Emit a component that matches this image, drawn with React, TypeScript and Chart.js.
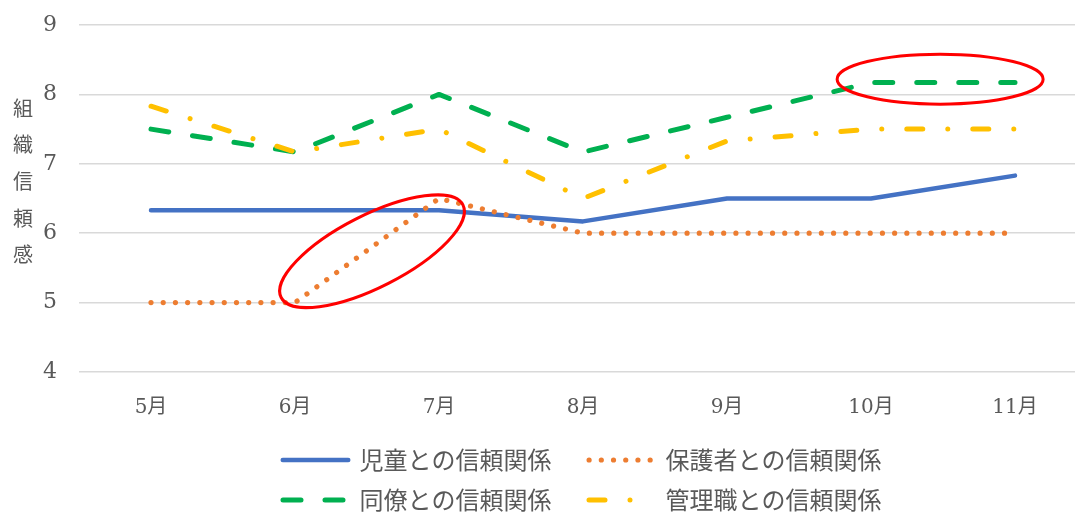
import React, { useEffect, useRef } from 'react';
import { Chart, registerables } from 'chart.js';

Chart.register(...registerables);

const months = ['5月', '6月', '7月', '8月', '9月', '10月', '11月'];
const seriesNames = ['児童との信頼関係', '保護者との信頼関係', '同僚との信頼関係', '管理職との信頼関係'];
const childValues = [6.33, 6.33, 6.33, 6.17, 6.5, 6.5, 6.83];
const guardianValues = [5, 5, 6.5, 6, 6, 6, 6];
const colleagueValues = [7.5, 7.17, 8, 7.17, 7.67, 8.17, 8.17];
const managerValues = [7.83, 7.17, 7.5, 6.5, 7.33, 7.5, 7.5];
const yMin = 4;
const yMax = 9;
const yStep = 1;
const yTitleChars = ['組', '織', '信', '頼', '感'];
// highlight ellipses, centred in data coordinates (category index, value)
const highlightX = [1.535, 5.48];
const highlightY = [5.74, 8.22];

const TEXT = '#595959';
const CJK = '"Noto Sans CJK JP", "Noto Sans", sans-serif';
const SERIF = '"DejaVu Serif", "Noto Sans CJK JP", serif';

const yTitlePlugin = {
  id: 'yTitleStack',
  afterDraw(chart: any) {
    const { ctx, chartArea } = chart;
    ctx.save();
    ctx.font = `20px ${CJK}`;
    ctx.fillStyle = TEXT;
    ctx.textAlign = 'center';
    ctx.textBaseline = 'middle';
    const mid = (chartArea.top + chartArea.bottom) / 2 - 17;
    const step = 36.7;
    yTitleChars.forEach((ch, i) => {
      ctx.fillText(ch, 23, mid + (i - (yTitleChars.length - 1) / 2) * step);
    });
    ctx.restore();
  },
};

const ellipsePlugin = {
  id: 'highlightEllipses',
  afterDatasetsDraw(chart: any) {
    const { ctx } = chart;
    const xs = chart.scales.x;
    const ys = chart.scales.y;
    const shapes = [
      { rx: 102, ry: 36, rot: (-27 * Math.PI) / 180 },
      { rx: 103, ry: 25, rot: 0 },
    ];
    ctx.save();
    ctx.strokeStyle = '#FF0000';
    ctx.lineWidth = 3;
    highlightX.forEach((hx, i) => {
      const px = xs.getPixelForValue(hx);
      const py = ys.getPixelForValue(highlightY[i]);
      ctx.beginPath();
      ctx.ellipse(px, py, shapes[i].rx, shapes[i].ry, shapes[i].rot, 0, Math.PI * 2);
      ctx.stroke();
    });
    ctx.restore();
  },
};

const legendPlugin = {
  id: 'twoRowLegend',
  afterDraw(chart: any) {
    const { ctx, chartArea } = chart;
    const ds = chart.data.datasets;
    ctx.save();
    ctx.font = `24px ${CJK}`;
    const lineLen = 70;
    const gap = 9;
    const colGap = 35;
    const w = ds.map((d: any) => ctx.measureText(d.label).width);
    const c1 = Math.max(w[0], w[2]);
    const c2 = Math.max(w[1], w[3]);
    const total = lineLen + gap + c1 + colGap + lineLen + gap + c2;
    const cx = (chartArea.left + chartArea.right) / 2 - 2;
    const x0 = cx - total / 2;
    const xsPos = [x0, x0 + lineLen + gap + c1 + colGap];
    const ysPos = [chartArea.bottom + 88, chartArea.bottom + 128];
    ds.forEach((d: any, i: number) => {
      const x = xsPos[i % 2];
      const y = ysPos[Math.floor(i / 2)];
      const hw = d.borderWidth / 2;
      ctx.beginPath();
      ctx.strokeStyle = d.borderColor;
      ctx.lineWidth = d.borderWidth;
      ctx.lineCap = 'round';
      ctx.setLineDash(d.borderDash || []);
      ctx.moveTo(x + hw, y);
      ctx.lineTo(x + lineLen - hw, y);
      ctx.stroke();
      ctx.setLineDash([]);
      ctx.fillStyle = TEXT;
      ctx.textAlign = 'left';
      ctx.textBaseline = 'middle';
      ctx.fillText(d.label, x + lineLen + gap, y);
    });
    ctx.restore();
  },
};

export default function App() {
  const ref = useRef<HTMLCanvasElement | null>(null);

  useEffect(() => {
    document.body.style.margin = '0';
    document.body.style.overflow = 'hidden';
    const canvas = ref.current;
    if (!canvas) return;
    const chart = new Chart(canvas, {
      type: 'line',
      data: {
        labels: months,
        datasets: [
          {
            label: seriesNames[0],
            data: childValues,
            borderColor: '#4472C4',
            borderWidth: 4.5,
            borderCapStyle: 'round',
            borderJoinStyle: 'round',
            pointRadius: 0,
            tension: 0,
            fill: false,
            order: 3,
          },
          {
            label: seriesNames[1],
            data: guardianValues,
            borderColor: '#ED7D31',
            borderWidth: 5.2,
            borderDash: [0.01, 12.2],
            borderCapStyle: 'round',
            borderJoinStyle: 'round',
            pointRadius: 0,
            tension: 0,
            fill: false,
            order: 2,
          },
          {
            label: seriesNames[2],
            data: colleagueValues,
            borderColor: '#00B050',
            borderWidth: 5,
            borderDash: [18, 24],
            borderCapStyle: 'round',
            borderJoinStyle: 'round',
            pointRadius: 0,
            tension: 0,
            fill: false,
            order: 1,
          },
          {
            label: seriesNames[3],
            data: managerValues,
            borderColor: '#FFC000',
            borderWidth: 5,
            borderDash: [16, 25, 0.01, 25],
            borderCapStyle: 'round',
            borderJoinStyle: 'round',
            pointRadius: 0,
            tension: 0,
            fill: false,
            order: 0,
          },
        ],
      },
      options: {
        responsive: false,
        animation: false,
        events: [],
        layout: { padding: { left: 0, right: 23, top: 25, bottom: 81 } },
        plugins: {
          legend: { display: false },
          tooltip: { enabled: false },
          title: { display: false },
        },
        scales: {
          x: {
            offset: true,
            grid: { display: false },
            border: { display: false },
            ticks: { color: TEXT, font: { family: SERIF, size: 20 }, padding: 16 },
            afterFit: (s: any) => {
              s.height = 60;
            },
          },
          y: {
            min: yMin,
            max: yMax,
            ticks: { stepSize: yStep, color: TEXT, font: { family: SERIF, size: 22 }, padding: 22 },
            grid: { color: '#d9d9d9', lineWidth: 1.5, drawTicks: false },
            border: { display: false },
            afterFit: (s: any) => {
              s.width = 79;
              s.paddingTop = 10;
              s.paddingBottom = 10;
            },
          },
        },
      },
      plugins: [ellipsePlugin, yTitlePlugin, legendPlugin],
    });
    return () => chart.destroy();
  }, []);

  return (
    <div style={{ width: 1075, height: 513, overflow: 'hidden', position: 'relative' }}>
      <canvas ref={ref} width={1110} height={513} style={{ display: 'block', width: 1110, height: 513 }} />
    </div>
  );
}
